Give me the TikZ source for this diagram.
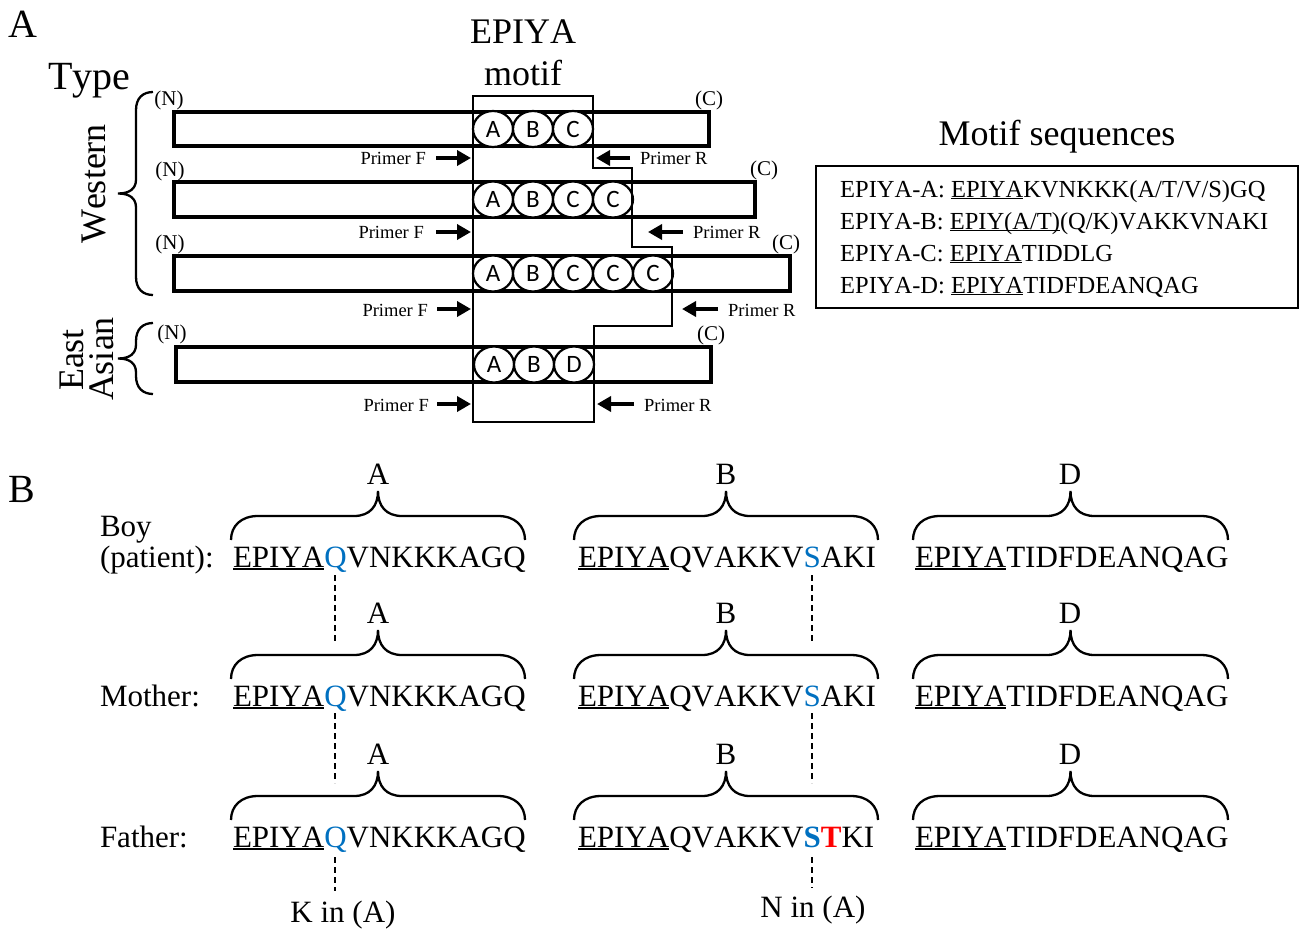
\documentclass[tikz,border=0pt]{standalone}
\usepackage{fontspec}
\setmainfont{Liberation Serif}[Kerning=Off]
\newfontfamily\circfont{Carlito}
\usetikzlibrary{shapes.geometric,arrows.meta,calc}
\definecolor{qblue}{HTML}{0070C0}
\definecolor{tred}{HTML}{FF0000}
\newcommand{\uln}[1]{\setbox0\hbox{#1}\rlap{\rule[-0.1em]{\wd0}{0.07em}}\box0}
\newcommand{\hbr}[3]{%
  \pgfmathsetmacro{\hbxm}{(#1+#2)/2}%
  \draw[bracel] (#1,#3) .. controls (#1,#3-14) and (#1+10,#3-24) .. (#1+27,#3-24)
    -- (\hbxm-24,#3-24) .. controls (\hbxm-8,#3-24) and (\hbxm,#3-34) .. (\hbxm,#3-49)
    .. controls (\hbxm,#3-34) and (\hbxm+8,#3-24) .. (\hbxm+24,#3-24)
    -- (#2-27,#3-24) .. controls (#2-10,#3-24) and (#2,#3-14) .. (#2,#3);}
\newcommand{\vbr}[3]{%
  \pgfmathsetmacro{\vbxs}{#1-17}\pgfmathsetmacro{\vbxt}{#1-35}\pgfmathsetmacro{\vbym}{(#2+#3)/2}%
  \draw[bracel] (#1,#2) .. controls (#1-10,#2) and (\vbxs,#2+6) .. (\vbxs,#2+18)
    -- (\vbxs,\vbym-14) .. controls (\vbxs,\vbym-5) and (\vbxs-6,\vbym) .. (\vbxt,\vbym)
    .. controls (\vbxs-6,\vbym) and (\vbxs,\vbym+5) .. (\vbxs,\vbym+14)
    -- (\vbxs,#3-18) .. controls (\vbxs,#3-6) and (#1-10,#3) .. (#1,#3);}
\tikzset{
  bar/.style={line width=3.5pt, fill=white},
  outl/.style={line width=2.8pt, line join=miter},
  motc/.style={ellipse, draw, line width=2.2pt, minimum width=40pt, minimum height=36pt,
    inner sep=0pt, fill=white, font=\circfont\fontsize{25pt}{29pt}\selectfont},
  plab/.style={inner sep=0pt, font=\fontsize{18.5pt}{22pt}\selectfont},
  term/.style={inner sep=0pt, font=\fontsize{21pt}{25pt}\selectfont},
  parrow/.style={line width=3.5pt, -{Triangle[length=14pt,width=15pt]}},
  big/.style={inner sep=0pt, font=\fontsize{36pt}{42pt}\selectfont},
  huge/.style={inner sep=0pt, font=\fontsize{40pt}{46pt}\selectfont},
  mtxt/.style={inner sep=0pt, anchor=base west, font=\fontsize{24.5pt}{30pt}\selectfont},
  seq/.style={inner sep=0pt, outer sep=0pt, anchor=base west, font=\fontsize{31pt}{37pt}\selectfont},
  bracel/.style={line width=2.3pt},
  dline/.style={line width=2pt, dash pattern=on 6pt off 4pt},
}
\begin{document}
\begin{tikzpicture}[x=1pt,y=-1pt]
\useasboundingbox (0,0) rectangle (1303,931);
% ---------- Panel A ----------
\node[huge, anchor=base west] (labA) at (8,38) {A};
\node[huge, anchor=base west] (type) at (48,90) {Type};
\node[big, anchor=base] (ep1) at (523,44) {EPIYA};
\node[big, anchor=base] (ep2) at (523,86) {motif};
\node[big, rotate=90, anchor=base] (west) at (105,184) {Western};
\node[big, rotate=90, anchor=base] (east) at (83,360) {East};
\node[big, rotate=90, anchor=base] (asian) at (113,359) {Asian};
\vbr{153}{92}{295}
\vbr{153}{323}{394}
% bars
\draw[bar] (174,112) rectangle (709,146);
\draw[bar] (174,182) rectangle (755,217);
\draw[bar] (174,256) rectangle (790,291);
\draw[bar] (176,347) rectangle (711,382);
% motifs
\foreach \x/\l [count=\i] in {493/A,533/B,573/C} \node[motc] (m1\i) at (\x,129) {\l};
\foreach \x/\l [count=\i] in {493/A,533/B,573/C,613/C} \node[motc] (m2\i) at (\x,199.5) {\l};
\foreach \x/\l [count=\i] in {493/A,533/B,573/C,613/C,653/C} \node[motc] (m3\i) at (\x,273.5) {\l};
\foreach \x/\l [count=\i] in {494/A,534/B,574/D} \node[motc] (m4\i) at (\x,364.5) {\l};
% outline
\draw[outl] (473,96) -- (593,96) -- (593,168) -- (632,168) -- (632,247) -- (672,247)
  -- (672,326) -- (594,326) -- (594,422) -- (473,422) -- cycle;
% terminals
\node[term] (n1) at (169,100) {(N)};
\node[term] (n2) at (170,171) {(N)};
\node[term] (n3) at (170,244) {(N)};
\node[term] (n4) at (172,334) {(N)};
\node[term] (c1) at (709,100) {(C)};
\node[term] (c2) at (764,170) {(C)};
\node[term] (c3) at (786,244) {(C)};
\node[term] (c4) at (711,335) {(C)};
% primers
\coordinate (tf1) at (471,158); \coordinate (tf2) at (471,232);
\coordinate (tf3) at (471,309); \coordinate (tf4) at (471,404);
\coordinate (tr1) at (596,158); \coordinate (tr2) at (648,232);
\coordinate (tr3) at (682,309); \coordinate (tr4) at (597,404);
\node[plab, anchor=east] (pf1) at (426,158) {Primer F};
\node[plab, anchor=east] (pf2) at (424,232) {Primer F};
\node[plab, anchor=east] (pf3) at (428,310) {Primer F};
\node[plab, anchor=east] (pf4) at (429,405) {Primer F};
\node[plab, anchor=west] (pr1) at (640,158) {Primer R};
\node[plab, anchor=west] (pr2) at (693,232) {Primer R};
\node[plab, anchor=west] (pr3) at (728,310) {Primer R};
\node[plab, anchor=west] (pr4) at (644,405) {Primer R};
\draw[parrow] ([xshift=10pt]pf1.east |- tf1) -- (tf1);
\draw[parrow] ([xshift=12pt]pf2.east |- tf2) -- (tf2);
\draw[parrow] ([xshift=9pt]pf3.east |- tf3) -- (tf3);
\draw[parrow] ([xshift=8pt]pf4.east |- tf4) -- (tf4);
\draw[parrow] ([xshift=-10pt]pr1.west |- tr1) -- (tr1);
\draw[parrow] ([xshift=-10pt]pr2.west |- tr2) -- (tr2);
\draw[parrow] ([xshift=-10pt]pr3.west |- tr3) -- (tr3);
\draw[parrow] ([xshift=-10pt]pr4.west |- tr4) -- (tr4);
% motif sequences box
\node[big, anchor=base] (mst) at (1057,146) {Motif sequences};
\draw[line width=1.8pt] (816,166) rectangle (1298,308);
\node[mtxt] (s1) at (840,197) {EPIYA-A: \uln{EPIYA}KVNKKK(A/T/V/S)GQ};
\node[mtxt] (s2) at (840,229) {EPIYA-B: \uln{EPIY(A/T)}(Q/K)VAKKVNAKI};
\node[mtxt] (s3) at (840,261) {EPIYA-C: \uln{EPIYA}TIDDLG};
\node[mtxt] (s4) at (840,293) {EPIYA-D: \uln{EPIYA}TIDFDEANQAG};
% ---------- Panel B ----------
\node[huge, anchor=base west] (labB) at (8,502) {B};
\node[seq] (boy) at (100,536) {Boy};
\node[seq] (pat) at (100,567) {(patient):};
\node[seq] (mot) at (100,706) {Mother:};
\node[seq] (fat) at (100,847) {Father:};
% row 1
\node[seq] (a1p) at (233,567) {\uln{EPIYA}};
\node[seq,text=qblue] (a1q) at (a1p.base east) {Q};
\node[seq] (a1r) at (a1q.base east) {VNKKKAGQ};
\node[seq] (b1p) at (578,567) {\uln{EPIYA}QVAKKV};
\node[seq,text=qblue] (b1s) at (b1p.base east) {S};
\node[seq] (b1r) at (b1s.base east) {AKI};
\node[seq] (d1) at (915,567) {\uln{EPIYA}TIDFDEANQAG};
\hbr{231}{525}{540} \hbr{574}{878}{540} \hbr{913}{1228}{540}
\node[seq,anchor=base] (la1) at (378,484) {A};
\node[seq,anchor=base] (lb1) at (726,484) {B};
\node[seq,anchor=base] (ld1) at (1070,484) {D};
% row 2
\node[seq] (a2p) at (233,706) {\uln{EPIYA}};
\node[seq,text=qblue] (a2q) at (a2p.base east) {Q};
\node[seq] (a2r) at (a2q.base east) {VNKKKAGQ};
\node[seq] (b2p) at (578,706) {\uln{EPIYA}QVAKKV};
\node[seq,text=qblue] (b2s) at (b2p.base east) {S};
\node[seq] (b2r) at (b2s.base east) {AKI};
\node[seq] (d2) at (915,706) {\uln{EPIYA}TIDFDEANQAG};
\hbr{231}{525}{679} \hbr{574}{878}{679} \hbr{913}{1228}{679}
\node[seq,anchor=base] (la2) at (378,623) {A};
\node[seq,anchor=base] (lb2) at (726,623) {B};
\node[seq,anchor=base] (ld2) at (1070,623) {D};
% row 3
\node[seq] (a3p) at (233,847) {\uln{EPIYA}};
\node[seq,text=qblue] (a3q) at (a3p.base east) {Q};
\node[seq] (a3r) at (a3q.base east) {VNKKKAGQ};
\node[seq] (b3p) at (578,847) {\uln{EPIYA}QVAKKV};
\node[seq,text=qblue] (b3s) at (b3p.base east) {\textbf{S}};
\node[seq,text=tred] (b3t) at (b3s.base east) {\textbf{T}};
\node[seq] (b3r) at (b3t.base east) {KI};
\node[seq] (d3) at (915,847) {\uln{EPIYA}TIDFDEANQAG};
\hbr{231}{525}{820} \hbr{574}{878}{820} \hbr{913}{1228}{820}
\node[seq,anchor=base] (la3) at (378,764) {A};
\node[seq,anchor=base] (lb3) at (726,764) {B};
\node[seq,anchor=base] (ld3) at (1070,764) {D};
% bottom labels
\node[seq,anchor=base] (kin) at (343,922) {K in (A)};
\node[seq,anchor=base] (nin) at (813,917) {N in (A)};
% dashed links
\draw[dline] ($(a1q.base)+(0,8)$) -- ($(a2q.base)+(0,-63)$);
\draw[dline] ($(a2q.base)+(0,7)$) -- ($(a3q.base)+(0,-64)$);
\draw[dline] ($(a3q.base)+(0,10)$) -- ($(a3q.base |- kin.north)+(0,-10)$);
\draw[dline] ($(b1s.base)+(0,8)$) -- ($(b2s.base)+(0,-63)$);
\draw[dline] ($(b2s.base)+(0,7)$) -- ($(b3s.base)+(0,-64)$);
\draw[dline] ($(b3s.base)+(0,10)$) -- ($(b3s.base |- nin.north)+(0,-8)$);
\end{tikzpicture}
\end{document}
